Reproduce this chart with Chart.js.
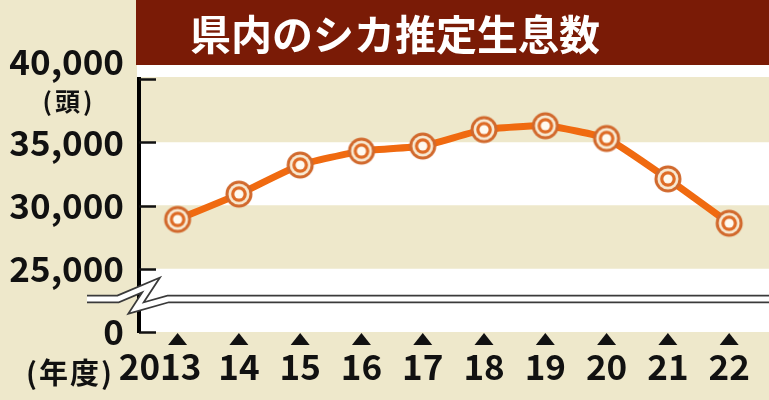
<!DOCTYPE html>
<html><head><meta charset="utf-8">
<script src="https://cdn.jsdelivr.net/npm/chart.js@4"></script>
<style>html,body{margin:0;padding:0;background:#eee8cb;}#wrap{width:769px;height:400px;}</style>
</head><body><div id="wrap"><canvas id="c" width="769" height="400"></canvas></div>
<script>
const titleText = '県内のシカ推定生息数';
const years = [2013, 2014, 2015, 2016, 2017, 2018, 2019, 2020, 2021, 2022];
const yearLabels = ['2013', '14', '15', '16', '17', '18', '19', '20', '21', '22'];
const deerCounts = [28900, 30900, 33200, 34300, 34700, 36000, 36300, 35300, 32100, 28600];
const yTickValues = [20000, 25000, 30000, 35000, 40000];
const yTickLabels = ['0', '25,000', '30,000', '35,000', '40,000'];
const yUnit = '(頭)';
const xUnit = '(年度)';

const BG = '#eee8cb';
const FONT = "'Noto Sans CJK JP', 'Noto Sans', sans-serif";

// marker image (concentric rings)
function makeMarker() {
  const c = document.createElement('canvas');
  c.width = 30; c.height = 30;
  const g = c.getContext('2d');
  const rings = [[13.5, '#d1692d'], [10.5, '#f8ead3'], [7.8, '#de6b25'], [4.6, '#fffaf0']];
  rings.forEach(([r, col]) => { g.beginPath(); g.arc(15, 15, r, 0, Math.PI * 2); g.fillStyle = col; g.fill(); });
  return c;
}
const marker = makeMarker();

const decor = {
  id: 'decor',
  beforeDraw(chart) {
    const { ctx, chartArea: a, scales: { y } } = chart;
    ctx.save();
    ctx.fillStyle = BG;
    ctx.fillRect(0, 0, chart.width, chart.height);
    // title bar
    ctx.fillStyle = '#7a1b06';
    ctx.fillRect(136, 0, chart.width - 136, 65);
    ctx.fillStyle = '#ffffff';
    ctx.fillRect(137, 65, chart.width - 137, 12);
    // bands
    const bands = [[35000, 40000, BG], [30000, 35000, '#ffffff'], [25000, 30000, BG], [20000, 25000, '#ffffff']];
    bands.forEach(([lo, hi, col]) => {
      const t = y.getPixelForValue(hi), b = y.getPixelForValue(lo);
      const ext = hi === 40000 ? 2 : 0;
      ctx.fillStyle = col;
      ctx.fillRect(a.left, t - ext, a.right - a.left, b - t + ext);
    });
    // title text
    ctx.fillStyle = '#ffffff';
    ctx.font = "bold 41px " + FONT;
    ctx.textAlign = 'center';
    ctx.textBaseline = 'middle';
    ctx.fillText(titleText, 395, 34);
    ctx.restore();
  },
  afterDraw(chart) {
    const { ctx, chartArea: a, scales: { x, y } } = chart;
    ctx.save();
    // inner ticks on y axis
    ctx.strokeStyle = '#111';
    ctx.lineWidth = 2.5;
    yTickValues.forEach(v => {
      const py = Math.round(y.getPixelForValue(v)) + 0.5;
      ctx.beginPath(); ctx.moveTo(a.left, py); ctx.lineTo(a.left + 17, py); ctx.stroke();
    });
    // triangles under each year
    ctx.fillStyle = '#111';
    years.forEach(v => {
      const px = x.getPixelForValue(v);
      ctx.beginPath();
      ctx.moveTo(px, a.bottom + 1);
      ctx.lineTo(px + 9.5, a.bottom + 13);
      ctx.lineTo(px - 9.5, a.bottom + 13);
      ctx.closePath(); ctx.fill();
    });
    // axis break (double line with zigzag)
    const by = 299;
    const path = () => {
      ctx.beginPath();
      ctx.moveTo(87, by); ctx.lineTo(118, by); ctx.lineTo(151, 285);
      ctx.lineTo(136, 308); ctx.lineTo(168, by); ctx.lineTo(chart.width, by);
    };
    ctx.lineJoin = 'miter';
    ctx.lineCap = 'butt';
    path(); ctx.strokeStyle = '#3a3a3a'; ctx.lineWidth = 8.5; ctx.stroke();
    path(); ctx.strokeStyle = '#ffffff'; ctx.lineWidth = 5; ctx.stroke();
    // unit labels
    ctx.fillStyle = '#111';
    ctx.textAlign = 'center';
    ctx.textBaseline = 'middle';
    ctx.font = "bold 25px " + FONT;
    try { ctx.letterSpacing = '3px'; } catch (e) {}
    ctx.fillText(yUnit, 69, 101);
    ctx.font = "bold 29px " + FONT;
    try { ctx.letterSpacing = '2px'; } catch (e) {}
    ctx.fillText(xUnit, 70, 373);
    ctx.restore();
  }
};

new Chart(document.getElementById('c'), {
  type: 'line',
  data: {
    datasets: [{
      data: years.map((yr, i) => ({ x: yr, y: deerCounts[i] })),
      borderColor: '#f06a10',
      borderWidth: 7,
      tension: 0.15,
      pointStyle: marker,
      pointRadius: 13,
      fill: false
    }]
  },
  options: {
    responsive: false,
    animation: false,
    devicePixelRatio: 1,
    layout: { autoPadding: false, padding: { top: 79, left: 0, right: 0, bottom: 0 } },
    plugins: { legend: { display: false }, tooltip: { enabled: false }, title: { display: false } },
    scales: {
      x: {
        type: 'linear',
        min: 2012.37,
        max: 2022.65,
        afterBuildTicks: s => { s.ticks = years.map(v => ({ value: v })); },
        afterFit: s => { s.height = 68; s.paddingLeft = 0; s.paddingRight = 0; },
        grid: { display: false, drawTicks: false },
        border: { display: false },
        ticks: {
          autoSkip: false, maxRotation: 0, minRotation: 0,
          padding: 14,
          color: '#111',
          font: { family: FONT, size: 35, weight: 'bold', lineHeight: 1.2 },
          callback: (v) => {
            const i = years.indexOf(v);
            if (i < 0) return '';
            return i === 0 ? yearLabels[i] + '\u2002\u2002' : yearLabels[i];
          }
        }
      },
      y: {
        type: 'linear',
        min: 20000,
        max: 40000,
        afterBuildTicks: s => { s.ticks = yTickValues.map(v => ({ value: v })); },
        afterFit: s => { s.width = 139; s.paddingTop = 0; s.paddingBottom = 0; },
        grid: { display: false, drawTicks: false },
        border: { display: true, color: '#000', width: 4 },
        ticks: {
          autoSkip: false,
          padding: 15,
          color: '#111',
          font: { family: FONT, size: 35, weight: 'bold', lineHeight: 0.97 },
          callback: (v) => {
            const i = yTickValues.indexOf(v);
            if (i < 0) return '';
            return v === 40000 ? [yTickLabels[i], ''] : yTickLabels[i];
          }
        }
      }
    }
  },
  plugins: [decor]
});
</script></body></html>
